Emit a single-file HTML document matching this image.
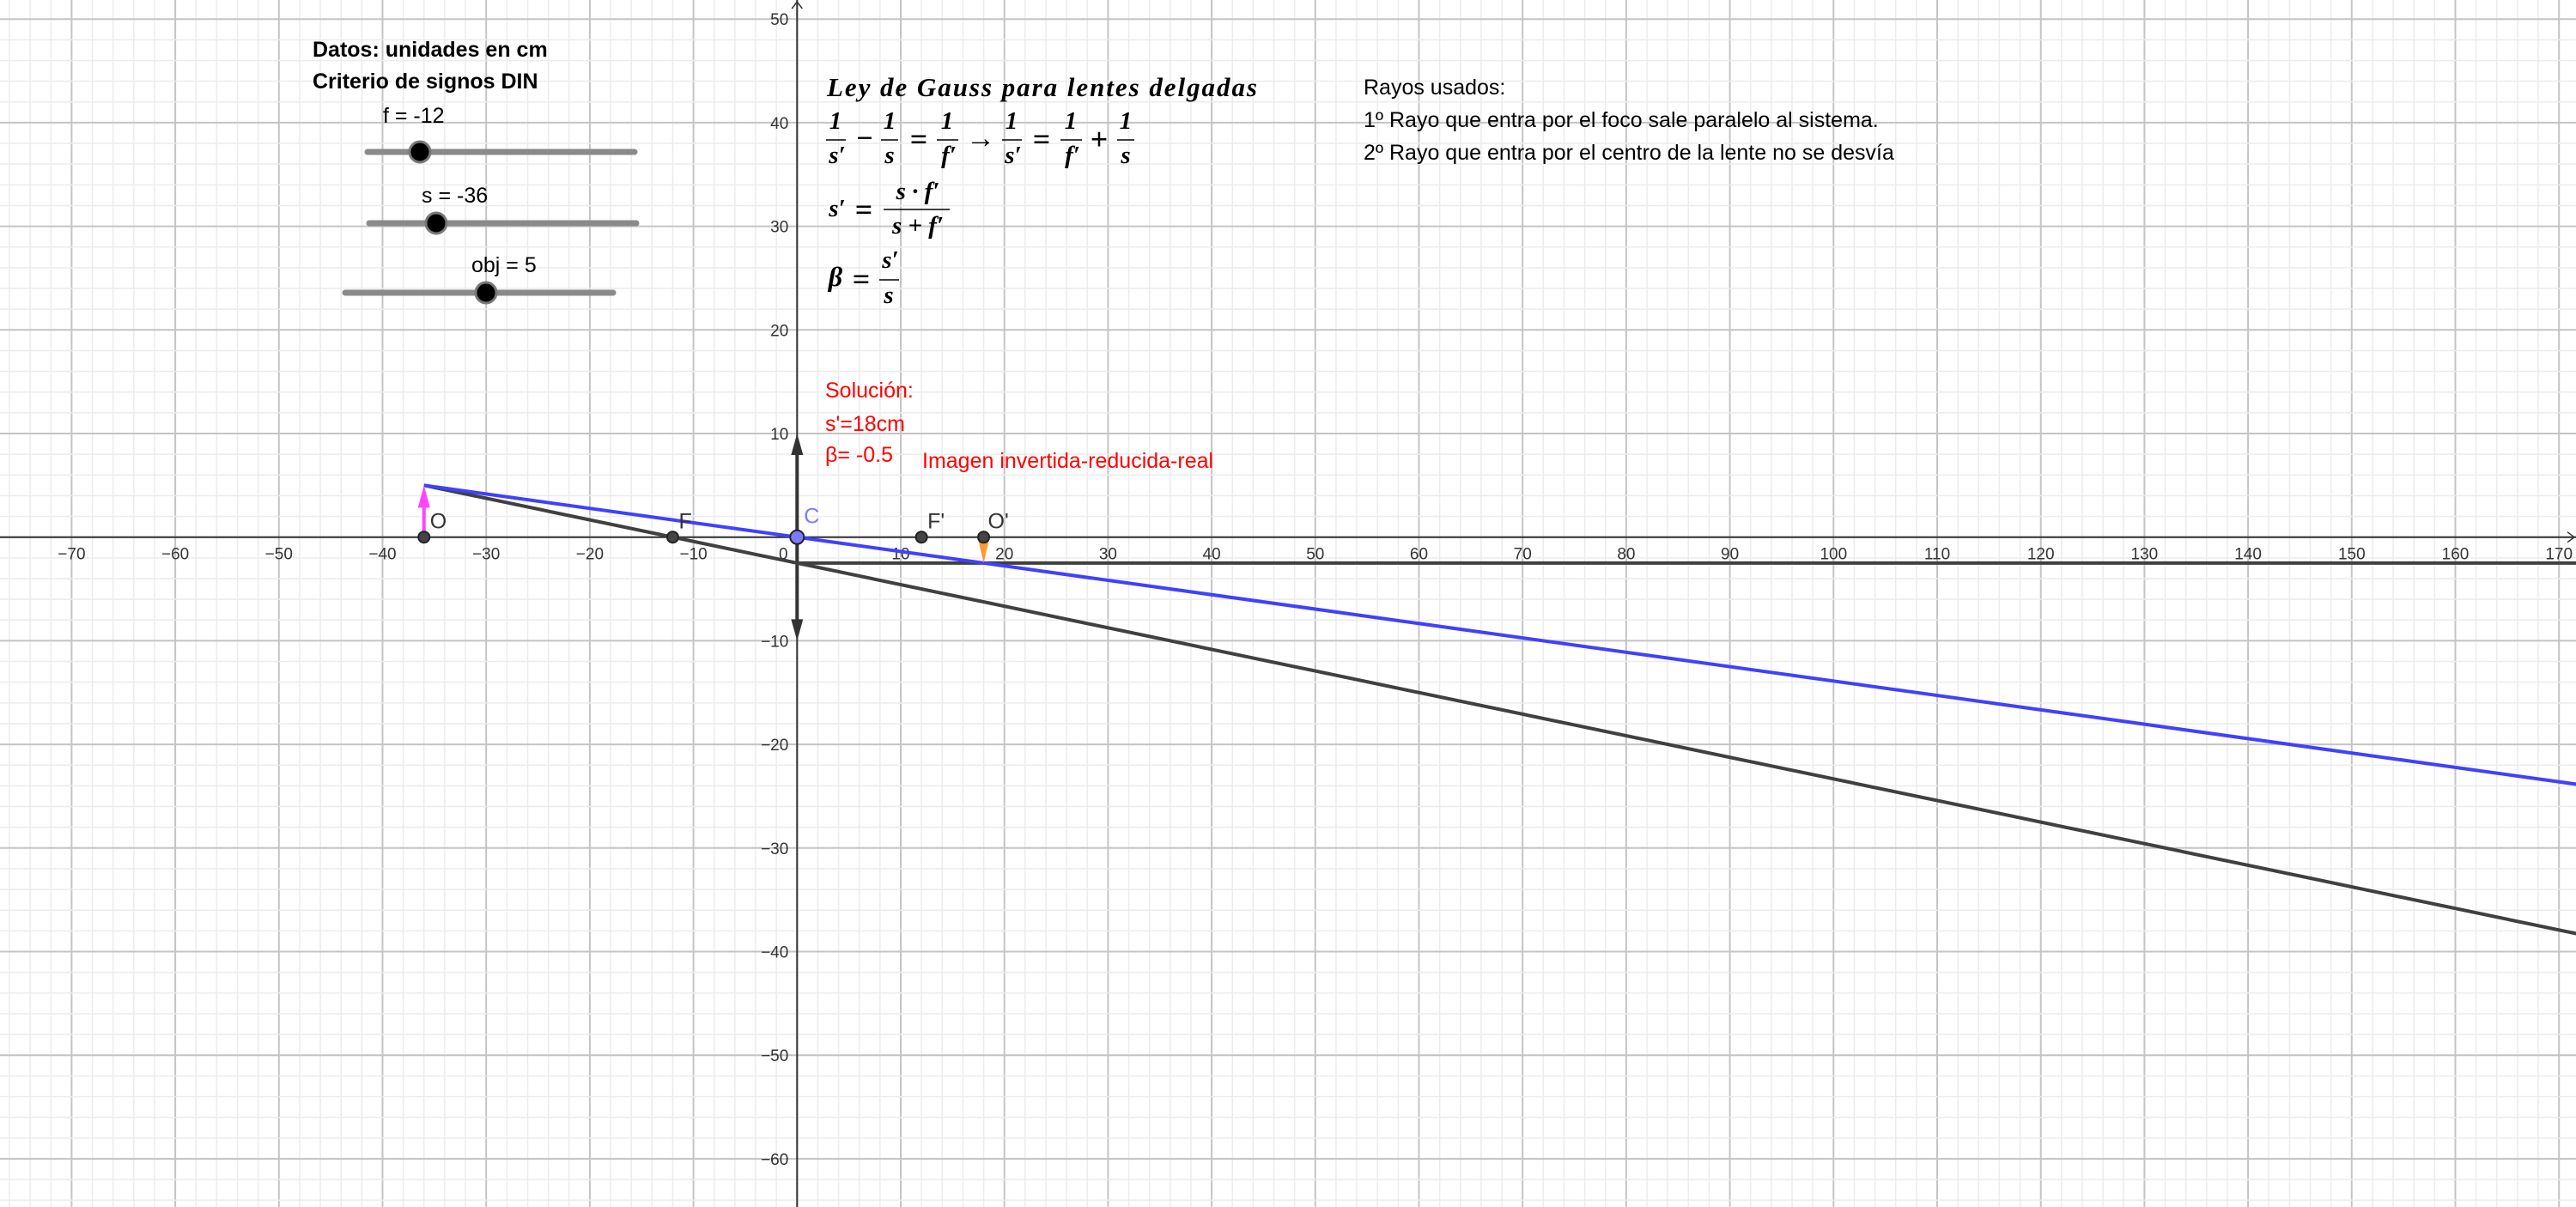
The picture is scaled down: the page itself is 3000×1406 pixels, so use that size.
<!DOCTYPE html>
<html><head><meta charset="utf-8"><style>
html,body{margin:0;padding:0;background:#fff;}
svg{display:block;font-family:"Liberation Sans",sans-serif;}
</style></head><body>
<svg id="chart" width="3000" height="1406" viewBox="0 0 3000 1406" xmlns="http://www.w3.org/2000/svg">
<g id="grid"></g>
<g id="axes"></g>
<g id="rays"></g>
<g id="points"></g>
<g font-size="25" fill="#000">
  <text x="364" y="66" font-weight="bold">Datos: unidades en cm</text>
  <text x="364" y="103" font-weight="bold">Criterio de signos DIN</text>
  <text x="446" y="143">f = -12</text>
  <line x1="428" y1="177" x2="739" y2="177" stroke="#8a8a8a" stroke-width="7" stroke-linecap="round"/>
  <circle cx="489" cy="177" r="12" fill="#000" stroke="#777" stroke-width="3"/>
  <text x="491" y="236">s = -36</text>
  <line x1="430" y1="260" x2="741" y2="260" stroke="#8a8a8a" stroke-width="7" stroke-linecap="round"/>
  <circle cx="508" cy="260" r="12" fill="#000" stroke="#777" stroke-width="3"/>
  <text x="549" y="317">obj = 5</text>
  <line x1="402" y1="341" x2="714" y2="341" stroke="#8a8a8a" stroke-width="7" stroke-linecap="round"/>
  <circle cx="566" cy="341" r="12" fill="#000" stroke="#777" stroke-width="3"/>
</g>
<g font-family="Liberation Serif, serif" font-style="italic" font-weight="bold" fill="#000" font-size="29" text-anchor="middle">
  <text x="963" y="112" text-anchor="start" font-size="31" textLength="501" lengthAdjust="spacing">Ley de Gauss para lentes delgadas</text>
  <g>
    <text x="973" y="150">1</text><line x1="962" y1="163" x2="985" y2="163" stroke="#000" stroke-width="1.5"/><text x="975" y="190">s′</text>
    <text x="1007" y="172" font-style="normal" font-size="34">−</text>
    <text x="1036" y="150">1</text><line x1="1026" y1="163" x2="1046" y2="163" stroke="#000" stroke-width="1.5"/><text x="1036" y="190">s</text>
    <text x="1070" y="174" font-style="normal" font-size="36">=</text>
    <text x="1103" y="150">1</text><line x1="1091" y1="163" x2="1116" y2="163" stroke="#000" stroke-width="1.5"/><text x="1105" y="190">f′</text>
    <text x="1142" y="172" font-style="normal" font-size="34">→</text>
    <text x="1178" y="150">1</text><line x1="1167" y1="163" x2="1190" y2="163" stroke="#000" stroke-width="1.5"/><text x="1180" y="190">s′</text>
    <text x="1213" y="174" font-style="normal" font-size="36">=</text>
    <text x="1247" y="150">1</text><line x1="1235" y1="163" x2="1260" y2="163" stroke="#000" stroke-width="1.5"/><text x="1249" y="190">f′</text>
    <text x="1280" y="174" font-style="normal" font-size="36">+</text>
    <text x="1311" y="150">1</text><line x1="1301" y1="163" x2="1321" y2="163" stroke="#000" stroke-width="1.5"/><text x="1311" y="190">s</text>
  </g>
  <g>
    <text x="975" y="252">s′</text>
    <text x="1006" y="256" font-style="normal" font-size="36">=</text>
    <text x="1069" y="232">s · f′</text><line x1="1029" y1="244" x2="1106" y2="244" stroke="#000" stroke-width="1.5"/><text x="1069" y="272">s + f′</text>
  </g>
  <g>
    <text x="973" y="333" font-size="32">β</text>
    <text x="1003" y="337" font-style="normal" font-size="36">=</text>
    <text x="1037" y="312">s′</text><line x1="1024" y1="326" x2="1047" y2="326" stroke="#000" stroke-width="1.5"/><text x="1035" y="353">s</text>
  </g>
</g>
<g font-size="25" fill="#000">
  <text x="1588" y="110">Rayos usados:</text>
  <text x="1588" y="148">1º Rayo que entra por el foco sale paralelo al sistema.</text>
  <text x="1588" y="186">2º Rayo que entra por el centro de la lente no se desvía</text>
</g>
<g font-size="25" fill="#ff0000">
  <text x="961" y="463">Solución:</text>
  <text x="961" y="502">s'=18cm</text>
  <text x="961" y="538">β= -0.5</text>
  <text x="1074" y="545" font-size="25">Imagen invertida-reducida-real</text>
</g>
</svg>
<script>
const X0 = 928.3, Y0 = 625.7, U = 12.07;
const xTicks = [-70,-60,-50,-40,-30,-20,-10,10,20,30,40,50,60,70,80,90,100,110,120,130,140,150,160,170];
const yTicks = [50,40,30,20,10,-10,-20,-30,-40,-50,-60];
const focal = [-12];
const objectPos = [-36];
const objectHeight = [5];
const imagePos = [18];
const imageHeight = [-2.5];
const lensTop = [10];
const lensBottom = [-10];
const xMaxView = [172];

const NS = "http://www.w3.org/2000/svg";
const sx = v => X0 + v * U;
const sy = v => Y0 - v * U;
function mk(tag, attrs, parent, text) {
  const e = document.createElementNS(NS, tag);
  for (const k in attrs) e.setAttribute(k, attrs[k]);
  if (text !== undefined) e.textContent = text;
  parent.appendChild(e);
  return e;
}
const grid = document.getElementById('grid');
const axes = document.getElementById('axes');
const rays = document.getElementById('rays');
const pts = document.getElementById('points');

for (let v = -76; v <= 172; v += 2) {
  const major = v % 10 === 0;
  const l = mk('line', {x1: sx(v), y1: 0, x2: sx(v), y2: 1406, stroke: major ? '#c4c4c4' : '#ececec', 'stroke-width': major ? 2 : 1.5}, grid);
  
  
}
for (let v = -64; v <= 52; v += 2) {
  const major = v % 10 === 0;
  const l = mk('line', {x1: 0, y1: sy(v), x2: 3000, y2: sy(v), stroke: major ? '#c4c4c4' : '#ececec', 'stroke-width': major ? 2 : 1.5}, grid);
  
  
}
let a = mk('line', {x1: 0, y1: Y0, x2: 3000, y2: Y0, stroke: '#333', 'stroke-width': 2}, axes);


a = mk('line', {x1: X0, y1: 0, x2: X0, y2: 1406, stroke: '#333', 'stroke-width': 2}, axes);


mk('path', {d: `M2990 ${Y0-6} L2998 ${Y0} L2990 ${Y0+6}`, fill: 'none', stroke: '#333', 'stroke-width': 1.5}, axes);
mk('path', {d: `M${X0-6} 10 L${X0} 2 L${X0+6} 10`, fill: 'none', stroke: '#333', 'stroke-width': 1.5}, axes);
xTicks.forEach(v => {
  const t = mk('text', {x: sx(v), y: Y0 + 26, 'font-size': 19, fill: '#333', 'text-anchor': 'middle'}, axes, (v < 0 ? '\u2212' : '') + Math.abs(v));
  
  
});
mk('text', {x: X0 - 16, y: Y0 + 26, 'font-size': 19, fill: '#333', 'text-anchor': 'middle'}, axes, '0');
yTicks.forEach(v => {
  const t = mk('text', {x: X0 - 10, y: sy(v) + 7, 'font-size': 19, fill: '#333', 'text-anchor': 'end'}, axes, (v < 0 ? '\u2212' : '') + Math.abs(v));
  
  
});

let lens = mk('line', {x1: X0, y1: sy(lensTop[0]) + 20, x2: X0, y2: sy(lensBottom[0]) - 20, stroke: '#333', 'stroke-width': 4}, rays);


let ah = mk('path', {d: `M${X0-7} ${sy(lensTop[0])+25} L${X0} ${sy(lensTop[0])} L${X0+7} ${sy(lensTop[0])+25} Z`, fill: '#333'}, rays);


ah = mk('path', {d: `M${X0-7} ${sy(lensBottom[0])-25} L${X0} ${sy(lensBottom[0])} L${X0+7} ${sy(lensBottom[0])-25} Z`, fill: '#333'}, rays);



const ox = objectPos[0], oh = objectHeight[0], f = focal[0], xm = xMaxView[0];
const slopeF = (0 - oh) / (f - ox);
const yAtLens = oh + slopeF * (0 - ox);
let r = mk('line', {x1: sx(ox), y1: sy(oh), x2: sx(xm), y2: sy(oh + slopeF * (xm - ox)), stroke: '#404040', 'stroke-width': 4}, rays);


r = mk('line', {x1: sx(0), y1: sy(yAtLens), x2: sx(xm), y2: sy(yAtLens), stroke: '#404040', 'stroke-width': 4}, rays);


const slopeC = (0 - oh) / (0 - ox);
r = mk('line', {x1: sx(ox), y1: sy(oh), x2: sx(xm), y2: sy(oh + slopeC * (xm - ox)), stroke: '#4040ff', 'stroke-width': 4}, rays);



r = mk('line', {x1: sx(ox), y1: sy(0), x2: sx(ox), y2: sy(oh) + 14, stroke: '#ff44ff', 'stroke-width': 4}, rays);


r = mk('path', {d: `M${sx(ox)-7} ${sy(oh)+26} L${sx(ox)} ${sy(oh)} L${sx(ox)+7} ${sy(oh)+26} Z`, fill: '#ff44ff'}, rays);


const ix = imagePos[0], ih = imageHeight[0];
r = mk('path', {d: `M${sx(ix)-7} ${sy(0)} L${sx(ix)} ${sy(ih)} L${sx(ix)+7} ${sy(0)} Z`, fill: '#ff9933'}, rays);



function point(x, label, fill, lfill, dx, dy, name) {
  const c = mk('circle', {cx: sx(x), cy: Y0, r: x === 0 ? 8 : 6.5, fill: fill, stroke: '#222', 'stroke-width': 2}, pts);
  
  
  const t = mk('text', {x: sx(x) + dx, y: Y0 + dy, 'font-size': 25, fill: lfill}, pts, label);
  
  
}
point(ox, 'O', '#444', '#333', 7, -10, 'object-point');
point(f, 'F', '#444', '#333', 7, -10, 'focus-point');
point(-f, "F'", '#444', '#333', 7, -10, 'image-focus-point');
point(ix, "O'", '#444', '#333', 5, -10, 'image-point');
point(0, 'C', '#7b7bff', '#7b7bff', 8, -16, 'lens-center');
</script>
</body></html>
